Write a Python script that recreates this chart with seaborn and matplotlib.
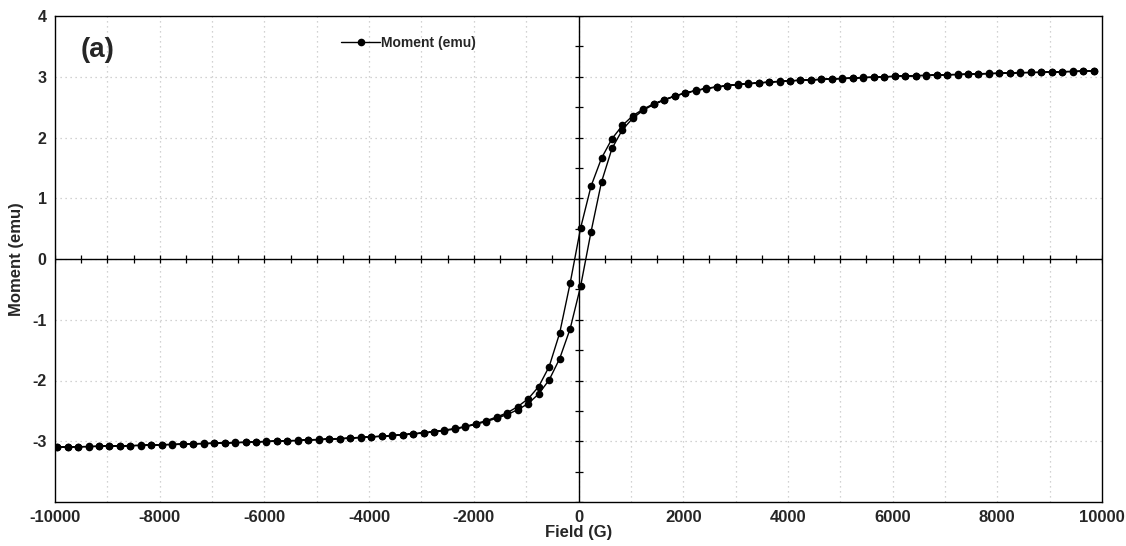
import matplotlib
matplotlib.use('Agg')
import numpy as np
import pandas as pd
import matplotlib.pyplot as plt
import seaborn as sns

# applied field (G), same steps on both sweeps
field = [-9960, -9760, -9560, -9360, -9160, -8960, -8760, -8560, -8360, -8160,
         -7960, -7760, -7560, -7360, -7160, -6960, -6760, -6560, -6360, -6160,
         -5960, -5760, -5560, -5360, -5160, -4960, -4760, -4560, -4360, -4160,
         -3960, -3760, -3560, -3360, -3160, -2960, -2760, -2560, -2360, -2160,
         -1960, -1760, -1560, -1360, -1160, -960, -760, -560, -360, -160,
         40, 240, 440, 640, 840, 1040, 1240, 1440, 1640, 1840,
         2040, 2240, 2440, 2640, 2840, 3040, 3240, 3440, 3640, 3840,
         4040, 4240, 4440, 4640, 4840, 5040, 5240, 5440, 5640, 5840,
         6040, 6240, 6440, 6640, 6840, 7040, 7240, 7440, 7640, 7840,
         8040, 8240, 8440, 8640, 8840, 9040, 9240, 9440, 9640, 9840]

# moment (emu) on the sweep coming down from +H (listed in field order)
moment_down = [-3.095, -3.09, -3.09, -3.085, -3.08, -3.08, -3.075, -3.07, -3.065, -3.06,
               -3.055, -3.05, -3.045, -3.04, -3.035, -3.03, -3.025, -3.02, -3.015, -3.01,
               -3.00, -2.995, -2.99, -2.985, -2.975, -2.97, -2.96, -2.955, -2.945, -2.935,
               -2.925, -2.915, -2.905, -2.89, -2.875, -2.86, -2.84, -2.815, -2.79, -2.755,
               -2.71, -2.66, -2.60, -2.53, -2.43, -2.30, -2.10, -1.77, -1.22, -0.40,
               0.51, 1.20, 1.66, 1.98, 2.20, 2.36, 2.47, 2.555, 2.625, 2.685,
               2.735, 2.775, 2.81, 2.835, 2.855, 2.875, 2.89, 2.90, 2.915, 2.925,
               2.935, 2.945, 2.95, 2.96, 2.965, 2.975, 2.98, 2.99, 2.995, 3.00,
               3.01, 3.015, 3.02, 3.025, 3.03, 3.035, 3.04, 3.045, 3.05, 3.055,
               3.06, 3.065, 3.07, 3.07, 3.075, 3.08, 3.085, 3.09, 3.095, 3.10]

# moment (emu) on the sweep going back up from -H
moment_up = [-3.10, -3.095, -3.09, -3.09, -3.085, -3.08, -3.08, -3.075, -3.07, -3.065,
             -3.06, -3.055, -3.05, -3.045, -3.04, -3.035, -3.03, -3.025, -3.02, -3.015,
             -3.005, -3.00, -2.995, -2.99, -2.98, -2.975, -2.965, -2.96, -2.95, -2.94,
             -2.93, -2.92, -2.91, -2.895, -2.88, -2.865, -2.845, -2.825, -2.80, -2.765,
             -2.72, -2.675, -2.62, -2.56, -2.48, -2.38, -2.22, -1.99, -1.64, -1.15,
             -0.45, 0.45, 1.27, 1.82, 2.13, 2.32, 2.45, 2.545, 2.615, 2.68,
             2.73, 2.77, 2.805, 2.83, 2.85, 2.87, 2.885, 2.895, 2.91, 2.92,
             2.93, 2.94, 2.945, 2.955, 2.96, 2.97, 2.975, 2.985, 2.99, 2.995,
             3.005, 3.01, 3.015, 3.02, 3.025, 3.03, 3.035, 3.04, 3.045, 3.05,
             3.055, 3.06, 3.065, 3.07, 3.07, 3.075, 3.08, 3.085, 3.09, 3.10]

x_ticks = [-10000, -8000, -6000, -4000, -2000, 0, 2000, 4000, 6000, 8000, 10000]
y_ticks = [-3, -2, -1, 0, 1, 2, 3, 4]

sns.set_style('white')
plt.rcParams['font.family'] = ['Liberation Sans', 'DejaVu Sans']
plt.rcParams['font.weight'] = 'bold'

# full loop: down sweep then up sweep
loop = pd.DataFrame({'Field (G)': field[::-1] + field,
                     'Moment (emu)': moment_down[::-1] + moment_up})

fig = plt.figure(figsize=(11.26, 5.46), dpi=100)
ax = fig.add_axes([55/1126, 44/546, 1047/1126, 486/546])

# dotted grid
for gx in range(-9000, 10000, 1000):
    ax.axvline(gx, color='#c4c4c4', lw=0.9, ls=(0, (1, 3)), zorder=0)
for gy in y_ticks:
    ax.axhline(gy, color='#c4c4c4', lw=0.9, ls=(0, (1, 3)), zorder=0)

# axes through the origin with small ticks
ax.axhline(0, color='black', lw=1.0, zorder=1)
ax.axvline(0, color='black', lw=1.0, zorder=1)
hx = np.arange(-10000, 10001, 500)
ax.plot(hx, np.zeros(len(hx)), ls='none', marker='|', ms=6, mew=0.9, color='black', zorder=1)
vy = np.arange(-4, 4.01, 0.5)
ax.plot(np.zeros(len(vy)), vy, ls='none', marker='_', ms=6, mew=0.9, color='black', zorder=1)

sns.lineplot(data=loop, x='Field (G)', y='Moment (emu)', sort=False, estimator=None,
             color='black', lw=1.0, marker='o', markersize=5.5, markeredgewidth=0,
             label='Moment (emu)', ax=ax, zorder=3)

ax.set_xlim(-10000, 10000)
ax.set_ylim(-4, 4)
ax.set_xticks(x_ticks)
ax.set_yticks(y_ticks)
ax.set_xticklabels([str(t) for t in x_ticks], fontsize=12, fontweight='bold')
ax.set_yticklabels([str(t) for t in y_ticks], fontsize=11.5, fontweight='bold')
ax.tick_params(length=0, pad=6)
ax.set_xlabel('Field (G)', fontsize=12, fontweight='bold', labelpad=0)
ax.set_ylabel('Moment (emu)', fontsize=12, fontweight='bold', labelpad=6)
for s in ax.spines.values():
    s.set_color('black')
    s.set_linewidth(1.0)

ax.text(0.024, 0.93, '(a)', transform=ax.transAxes, fontsize=20, fontweight='bold',
        ha='left', va='center')

leg = ax.legend(loc='center left', bbox_to_anchor=(0.268, 0.945), frameon=False,
                handlelength=2.8, handletextpad=0.1, borderaxespad=0,
                prop={'weight': 'bold', 'size': 10})

fig.savefig('out.png', dpi=100)
